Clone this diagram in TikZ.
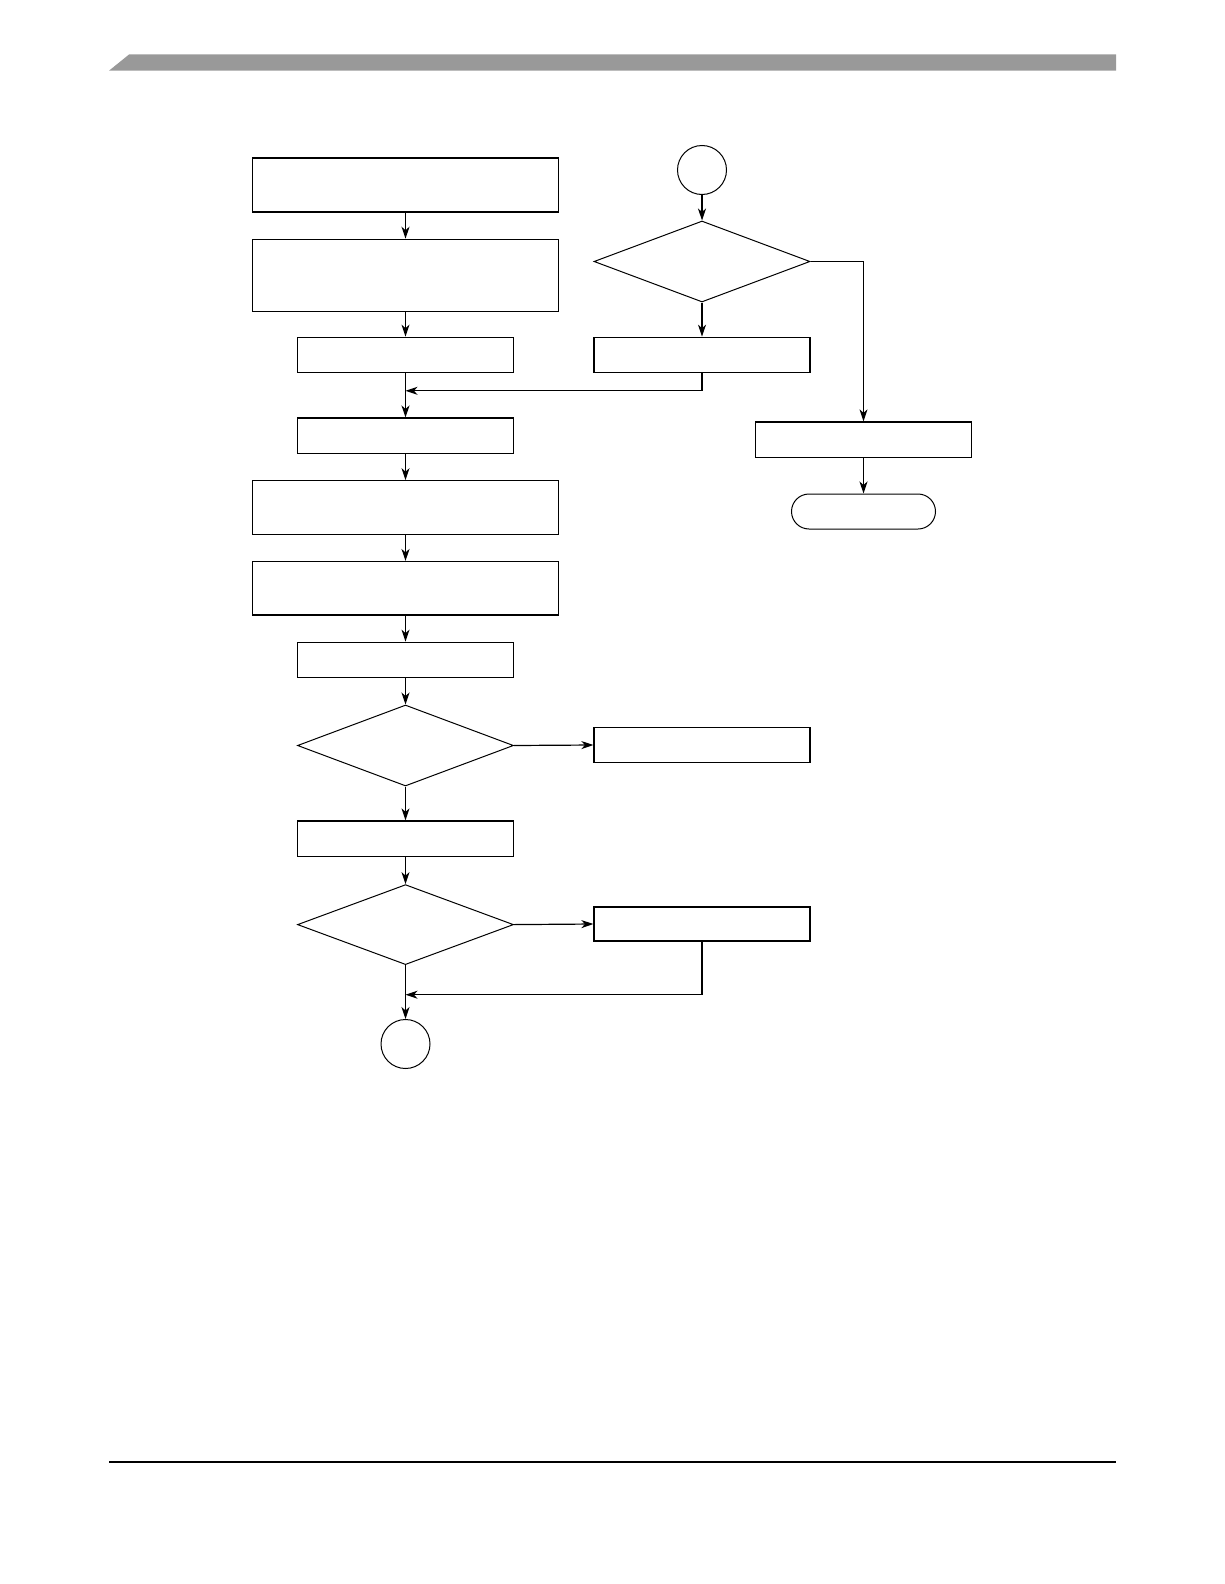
\documentclass[tikz,border=0pt]{standalone}
\usetikzlibrary{shapes.geometric,arrows.meta}
\definecolor{barcol}{RGB}{153,153,153}
\begin{document}
\begin{tikzpicture}[x=1pt,y=-1pt,
  box/.style={draw,line width=1.2pt,inner sep=0pt,minimum width=216pt,minimum height=35.5pt},
  widebox/.style={box,minimum width=306pt,minimum height=54pt},
  dec/.style={draw,diamond,line width=1pt,inner sep=0pt,minimum width=216pt,minimum height=81pt},
  conn/.style={draw,circle,line width=1pt,inner sep=0pt,minimum size=49pt},
  term/.style={draw,line width=1pt,rounded corners=17.5pt,inner sep=0pt,minimum width=144pt,minimum height=35pt},
  arr/.style={line width=1.2pt,-{Stealth[length=12pt,width=8pt,inset=3.5pt]}},
  ln/.style={line width=1.2pt}]
\useasboundingbox (0,0) rectangle (1224,1584);
% page furniture
\fill[barcol] (109,70.7) -- (129,54.5) -- (1116,54.5) -- (1116,70.7) -- cycle;
\draw[line width=1.3pt] (109,1462) -- (1116,1462);
% left column
\node[widebox] (b1) at (405.5,185) {};
\node[widebox,minimum height=72pt] (b2) at (405.5,275.3) {};
\node[box] (b3) at (405.5,355) {};
\node[box] (b4) at (405.5,435.8) {};
\node[widebox,minimum height=53.5pt] (b5) at (405.5,507.5) {};
\node[widebox,minimum height=53.5pt] (b6) at (405.5,588.3) {};
\node[box] (b7) at (405.5,660) {};
\node[dec] (d1) at (405.5,745.5) {};
\node[box] (b8) at (405.5,838.7) {};
\node[dec,minimum height=80pt] (d2) at (405.5,924.6) {};
\node[conn] (c2) at (405.5,1044) {};
% right column
\node[conn] (c1) at (702,170) {};
\node[dec] (dr) at (702,261.5) {};
\node[box] (br) at (702,355) {};
\node[box] (brr) at (863.5,439.7) {};
\node[term] (t) at (863.5,511.5) {};
\node[box] (rb1) at (702,745) {};
\node[box,minimum height=34pt] (rb2) at (702,924) {};
\coordinate (m1) at (405.5,390.8);
\coordinate (m2) at (405.5,994.7);
% connectors
\draw[arr] (b1) -- (b2);
\draw[arr] (b2) -- (b3);
\draw[arr] (b3) -- (b4);
\draw[arr] (br.south) |- (m1);
\draw[arr] (b4) -- (b5);
\draw[arr] (b5) -- (b6);
\draw[arr] (b6) -- (b7);
\draw[arr] (b7) -- (d1.north);
\draw[arr] (d1.east) -- (rb1.west);
\draw[arr] (d1.south) -- (b8);
\draw[arr] (b8) -- (d2.north);
\draw[arr] (d2.east) -- (rb2.west);
\draw[arr] (d2.south) -- (c2);
\draw[arr] (rb2.south) |- (m2);
\draw[arr] (c1) -- (dr.north);
\draw[arr] (dr.south) -- (br);
\draw[arr] (dr.east) -| (brr.north);
\draw[arr] (brr) -- (t);
\end{tikzpicture}
\end{document}
